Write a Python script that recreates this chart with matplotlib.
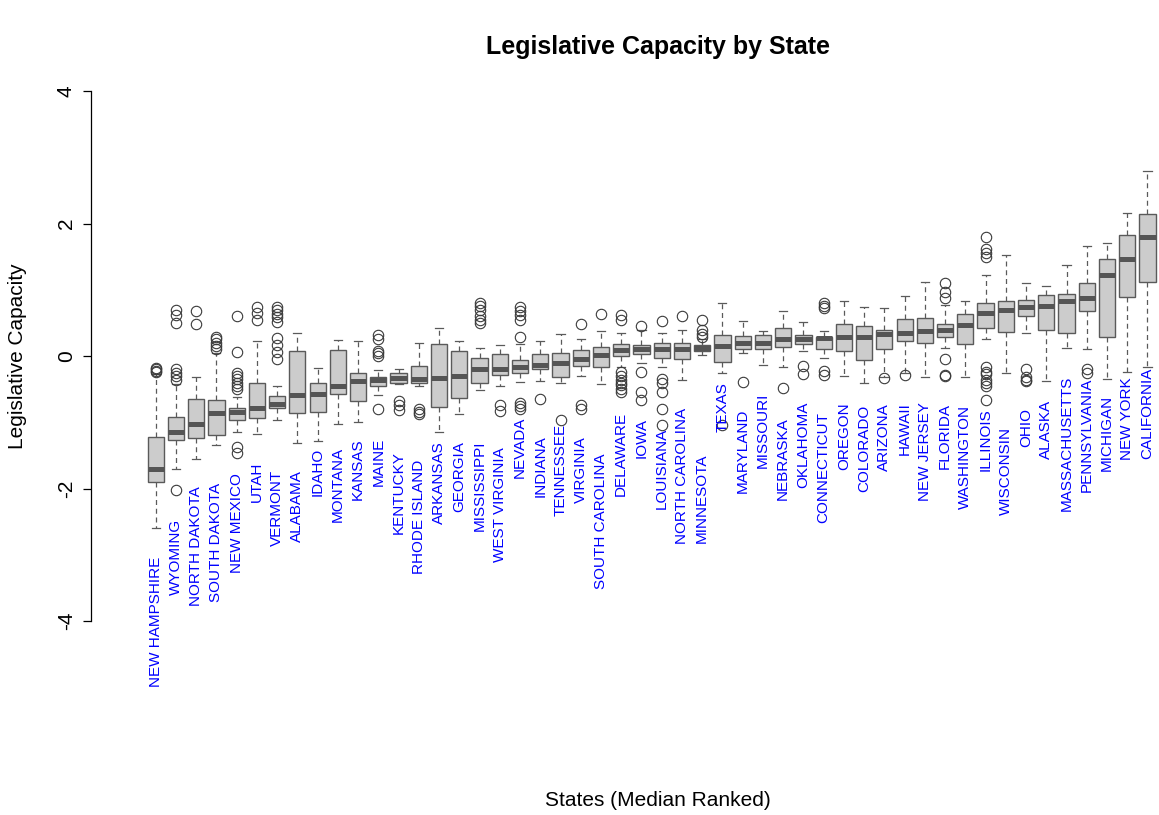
import matplotlib
matplotlib.use("Agg")
import matplotlib.pyplot as plt

plt.rcParams['font.family'] = ['Liberation Sans', 'DejaVu Sans']

# States ordered by median legislative capacity
states = [
    "NEW HAMPSHIRE", "WYOMING", "NORTH DAKOTA", "SOUTH DAKOTA", "NEW MEXICO",
    "UTAH", "VERMONT", "ALABAMA", "IDAHO", "MONTANA",
    "KANSAS", "MAINE", "KENTUCKY", "RHODE ISLAND", "ARKANSAS",
    "GEORGIA", "MISSISSIPPI", "WEST VIRGINIA", "NEVADA", "INDIANA",
    "TENNESSEE", "VIRGINIA", "SOUTH CAROLINA", "DELAWARE", "IOWA",
    "LOUISIANA", "NORTH CAROLINA", "MINNESOTA", "TEXAS", "MARYLAND",
    "MISSOURI", "NEBRASKA", "OKLAHOMA", "CONNECTICUT", "OREGON",
    "COLORADO", "ARIZONA", "HAWAII", "NEW JERSEY", "FLORIDA",
    "WASHINGTON", "ILLINOIS", "WISCONSIN", "OHIO", "ALASKA",
    "MASSACHUSETTS", "PENNSYLVANIA", "MICHIGAN", "NEW YORK", "CALIFORNIA",
]

whisker_low = [
    -2.60, -1.71, -1.55, -1.35, -1.14, -1.17, -0.96, -1.32, -1.29, -1.02,
    -0.99, -0.59, -0.43, -0.46, -1.14, -0.87, -0.51, -0.45, -0.39, -0.37,
    -0.40, -0.30, -0.42, -0.16, -0.11, -0.16, -0.36, 0.015, -0.26, 0.04,
    -0.14, -0.17, 0.08, -0.035, -0.30, -0.41, -0.31, -0.26, -0.31, 0.12,
    -0.31, 0.25, -0.25, 0.34, -0.37, 0.125, 0.105, -0.35, -0.24, -0.16,
]
q1 = [
    -1.90, -1.27, -1.24, -1.19, -0.97, -0.93, -0.79, -0.86, -0.84, -0.58,
    -0.68, -0.45, -0.41, -0.40, -0.77, -0.63, -0.40, -0.28, -0.25, -0.19,
    -0.31, -0.15, -0.17, 0.005, 0.03, -0.025, -0.04, 0.08, -0.085, 0.105,
    0.10, 0.13, 0.18, 0.105, 0.08, -0.06, 0.11, 0.23, 0.19, 0.28,
    0.18, 0.43, 0.36, 0.61, 0.39, 0.35, 0.68, 0.28, 0.89, 1.12,
]
median = [
    -1.71, -1.14, -1.02, -0.86, -0.84, -0.78, -0.73, -0.59, -0.57, -0.46,
    -0.38, -0.36, -0.33, -0.34, -0.33, -0.30, -0.20, -0.19, -0.16, -0.13,
    -0.10, -0.05, 0.015, 0.09, 0.10, 0.10, 0.105, 0.125, 0.155, 0.20,
    0.20, 0.25, 0.25, 0.265, 0.28, 0.29, 0.33, 0.35, 0.38, 0.39,
    0.47, 0.65, 0.70, 0.74, 0.76, 0.83, 0.88, 1.23, 1.47, 1.79,
]
q3 = [
    -1.23, -0.92, -0.65, -0.66, -0.78, -0.41, -0.60, 0.075, -0.40, 0.09,
    -0.26, -0.31, -0.26, -0.15, 0.18, 0.08, -0.035, 0.025, -0.06, 0.03,
    0.05, 0.09, 0.135, 0.18, 0.165, 0.19, 0.19, 0.16, 0.31, 0.30,
    0.31, 0.42, 0.32, 0.29, 0.48, 0.46, 0.40, 0.56, 0.57, 0.48,
    0.64, 0.80, 0.83, 0.85, 0.92, 0.94, 1.10, 1.46, 1.83, 2.15,
]
whisker_high = [
    -0.27, -0.42, -0.32, 0.05, -0.62, 0.23, -0.45, 0.34, -0.18, 0.24,
    0.22, -0.21, -0.20, 0.20, 0.43, 0.23, 0.12, 0.16, 0.18, 0.23,
    0.33, 0.25, 0.38, 0.34, 0.39, 0.35, 0.39, 0.25, 0.80, 0.53,
    0.38, 0.68, 0.52, 0.37, 0.83, 0.74, 0.73, 0.91, 1.12, 0.77,
    0.83, 1.22, 1.53, 1.10, 1.06, 1.38, 1.66, 1.70, 2.16, 2.80,
]
outliers = [
    [-0.18, -0.20, -0.22, -0.24],
    [-0.20, -0.25, -0.30, -0.36, 0.50, 0.62, 0.70, -2.03],
    [0.49, 0.68],
    [0.10, 0.15, 0.20, 0.25, 0.28],
    [-0.25, -0.30, -0.35, -0.40, -0.45, -0.50, 0.06, 0.60, -1.37, -1.47],
    [0.55, 0.65, 0.74],
    [-0.05, 0.065, 0.17, 0.27, 0.52, 0.59, 0.64, 0.69, 0.74],
    [],
    [],
    [],
    [],
    [0.0, 0.04, 0.07, 0.25, 0.31, -0.80],
    [-0.68, -0.74, -0.82],
    [-0.80, -0.84, -0.88],
    [],
    [],
    [0.50, 0.55, 0.60, 0.70, 0.75, 0.80],
    [-0.74, -0.83],
    [0.29, 0.55, 0.62, 0.68, 0.74, -0.71, -0.76, -0.80],
    [-0.65],
    [-0.97],
    [0.49, -0.74, -0.80],
    [0.63],
    [0.55, 0.62, -0.24, -0.30, -0.36, -0.40, -0.44, -0.50, -0.55],
    [0.46, -0.24, -0.55, -0.67],
    [0.53, -0.34, -0.41, -0.54, -0.80, -1.04],
    [0.60],
    [0.29, 0.33, 0.39, 0.54],
    [-1.04],
    [-0.39],
    [],
    [-0.49],
    [-0.15, -0.27],
    [0.72, 0.76, 0.80, -0.22, -0.29],
    [],
    [],
    [-0.33],
    [-0.28],
    [],
    [0.88, 0.97, 1.10, -0.04, -0.28, -0.30],
    [],
    [1.50, 1.55, 1.62, 1.80, -0.16, -0.24, -0.27, -0.36, -0.41, -0.46, -0.66],
    [],
    [-0.20, -0.32, -0.36, -0.38],
    [],
    [],
    [-0.19, -0.26],
    [],
    [],
    [],
]

# Upper end (in axis units) of each rotated state name
label_top = [
    -3.03, -2.46, -1.96, -1.91, -1.77, -1.60, -1.71, -1.73, -1.39, -1.37,
    -1.24, -1.24, -1.44, -1.56, -1.29, -1.28, -1.28, -1.37, -0.92, -1.19,
    -1.02, -1.21, -1.47, -0.84, -0.94, -1.09, -0.79, -1.47, -0.40, -0.80,
    -0.55, -0.92, -0.69, -0.84, -0.70, -0.74, -0.72, -0.70, -0.69, -0.71,
    -0.74, -0.79, -1.07, -0.79, -0.66, -0.29, -0.33, -0.59, -0.32, -0.17,
]

W, H = 1159, 815
fig = plt.figure(figsize=(W / 100, H / 100), dpi=100)
ax = fig.add_axes([91 / W, (H - 642.2) / H, (W - 91) / W, (642.2 - 69.8) / H])

positions = list(range(1, len(states) + 1))
stats = [
    dict(whislo=lo, q1=a, med=m, q3=b, whishi=hi, fliers=f)
    for lo, a, m, b, hi, f in zip(whisker_low, q1, median, q3, whisker_high, outliers)
]

edge = "#5a5a5a"
ax.bxp(
    stats, positions=positions, widths=0.8, capwidths=0.4,
    patch_artist=True, manage_ticks=False,
    boxprops=dict(facecolor="#cccccc", edgecolor=edge, linewidth=1.0),
    medianprops=dict(color="#555555", linewidth=3.6, solid_capstyle="butt"),
    whiskerprops=dict(color=edge, linewidth=0.9, linestyle=(0, (4, 3))),
    capprops=dict(color=edge, linewidth=0.9),
    flierprops=dict(marker="o", markersize=7.5, markerfacecolor="none",
                    markeredgecolor="#3a3a3a", markeredgewidth=0.8, linestyle="none"),
)

for x, name, top in zip(positions, states, label_top):
    ax.text(x, top, name, rotation=90, ha="center", va="top",
            color="#0000ff", fontsize=11)

ax.set_xlim(1 - (155.7 - 91) / 20.24, 50 + (W - 1147.5) / 20.24)
ax.set_ylim(-4.32, 4.32)

for side in ("top", "right", "bottom"):
    ax.spines[side].set_visible(False)
ax.spines["left"].set_bounds(-4, 4)
ax.spines["left"].set_linewidth(0.9)
ax.set_xticks([])
ax.set_yticks([-4, -2, 0, 2, 4])
ax.set_yticklabels(["-4", "-2", "0", "2", "4"], rotation=90, va="center")
ax.tick_params(axis="y", length=6, width=0.9, labelsize=15, pad=5)
ax.patch.set_visible(False)

fig.text(658 / W, 1 - 47 / H, "Legislative Capacity by State",
         ha="center", va="center", fontsize=18, fontweight="bold")
fig.text(658 / W, 1 - 800 / H, "States (Median Ranked)",
         ha="center", va="center", fontsize=15)
fig.text(18 / W, 1 - 356 / H, "Legislative Capacity",
         ha="center", va="center", rotation=90, fontsize=15)

fig.savefig("out.png", dpi=100)
